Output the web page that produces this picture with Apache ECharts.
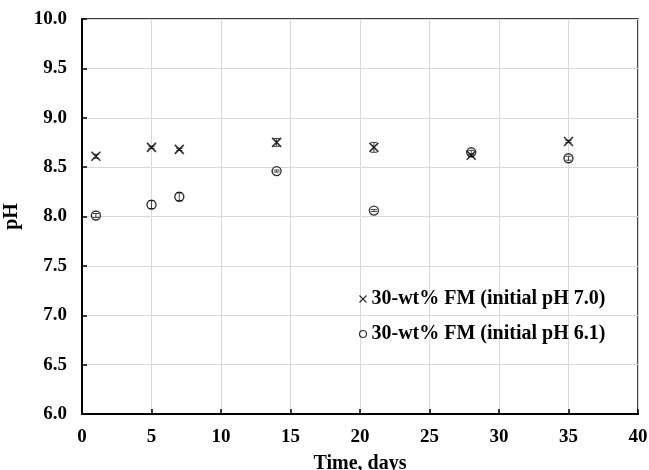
<!DOCTYPE html>
<html>
<head>
<meta charset="utf-8">
<script src="https://cdn.jsdelivr.net/npm/echarts@6/dist/echarts.min.js"></script>
<style>
  html, body { margin: 0; padding: 0; background: #fff; }
  #chart { width: 649px; height: 470px; }
</style>
</head>
<body>
<div id="chart"></div>
<script>
// sampling times (days)
const days = [1, 5, 7, 14, 21, 28, 35]

// pH, initial 7.0 and its error
const ph70 = [8.61, 8.70, 8.68, 8.75, 8.70, 8.62, 8.76]
const err70 = [0.02, 0.01, 0.01, 0.04, 0.05, 0.01, 0.01]

// pH, initial 6.1 and its error
const ph61 = [8.01, 8.12, 8.20, 8.46, 8.06, 8.65, 8.59]
const err61 = [0.02, 0.04, 0.04, 0.01, 0.01, 0.02, 0.02]

const xTicks = { min: 0, max: 40, interval: 5 }
const yTicks = { min: 6, max: 10, interval: 0.5 }

const crossPath = 'path://M0,0L10,10M10,0L0,10'
const serif = '"Liberation Serif", "Times New Roman", serif'

const pairs = (xs, ys) => xs.map((x, i) => [x, ys[i]])
const errData = (xs, ys, es) => xs.map((x, i) => [x, ys[i] - es[i], ys[i] + es[i]])

const errorBars = (data) => ({
  type: 'custom',
  data: data,
  silent: true,
  z: 1,
  renderItem: (params, api) => {
    const lo = api.coord([api.value(0), api.value(1)])
    const hi = api.coord([api.value(0), api.value(2)])
    const w = 3
    const st = { stroke: '#444', lineWidth: 1 }
    return {
      type: 'group',
      children: [
        { type: 'line', shape: { x1: lo[0], y1: lo[1], x2: hi[0], y2: hi[1] }, style: st },
        { type: 'line', shape: { x1: lo[0] - w, y1: lo[1], x2: lo[0] + w, y2: lo[1] }, style: st },
        { type: 'line', shape: { x1: hi[0] - w, y1: hi[1], x2: hi[0] + w, y2: hi[1] }, style: st }
      ]
    }
  }
})

const chart = echarts.init(document.getElementById('chart'))

chart.setOption({
  backgroundColor: '#fff',
  animation: false,
  grid: {
    left: 82, right: 11, top: 19, bottom: 56,
    outerBoundsMode: 'none',
    containLabel: false,
    show: true, borderColor: '#000', borderWidth: 1.5
  },
  legend: {
    orient: 'vertical',
    left: 357, top: 289,
    padding: 0,
    itemGap: 15,
    itemWidth: 7, itemHeight: 7,
    textStyle: { fontFamily: serif, fontWeight: 'bold', fontSize: 20, color: '#000' },
    data: [
      { name: '30-wt% FM (initial pH 7.0)', icon: crossPath, itemStyle: { color: 'none', borderColor: '#000', borderWidth: 1.2 } },
      { name: '30-wt% FM (initial pH 6.1)', icon: 'circle', itemStyle: { color: '#fff', borderColor: '#000', borderWidth: 1.2 } }
    ]
  },
  xAxis: {
    type: 'value',
    min: xTicks.min, max: xTicks.max, interval: xTicks.interval,
    name: 'Time, days',
    nameLocation: 'middle',
    nameGap: 40,
    nameTextStyle: { fontFamily: serif, fontWeight: 'bold', fontSize: 20, color: '#000' },
    axisLine: { lineStyle: { color: '#000', width: 2 } },
    axisTick: { inside: true, length: 5, lineStyle: { color: '#000', width: 1.5 } },
    axisLabel: { fontFamily: serif, fontWeight: 'bold', fontSize: 19, color: '#000', margin: 14 },
    splitLine: { lineStyle: { color: '#d9d9d9', width: 1 } }
  },
  yAxis: {
    type: 'value',
    min: yTicks.min, max: yTicks.max, interval: yTicks.interval,
    name: 'pH',
    nameLocation: 'middle',
    nameGap: 60,
    nameRotate: 90,
    nameTextStyle: { fontFamily: serif, fontWeight: 'bold', fontSize: 20, color: '#000' },
    axisLine: { lineStyle: { color: '#000', width: 2 } },
    axisTick: { inside: true, length: 5, lineStyle: { color: '#000', width: 1.5 } },
    axisLabel: {
      fontFamily: serif, fontWeight: 'bold', fontSize: 19, color: '#000', margin: 15,
      formatter: v => v.toFixed(1)
    },
    splitLine: { lineStyle: { color: '#d9d9d9', width: 1 } }
  },
  series: [
    errorBars(errData(days, ph70, err70)),
    errorBars(errData(days, ph61, err61)),
    {
      name: '30-wt% FM (initial pH 7.0)',
      type: 'scatter',
      data: pairs(days, ph70),
      symbol: crossPath,
      symbolSize: 9,
      z: 3,
      itemStyle: { color: 'none', borderColor: '#000', borderWidth: 1.6 }
    },
    {
      name: '30-wt% FM (initial pH 6.1)',
      type: 'scatter',
      data: pairs(days, ph61),
      symbol: 'circle',
      symbolSize: 9,
      z: 3,
      itemStyle: { color: 'rgba(255,255,255,0)', borderColor: '#000', borderWidth: 1.4 }
    }
  ]
})
</script>
</body>
</html>
